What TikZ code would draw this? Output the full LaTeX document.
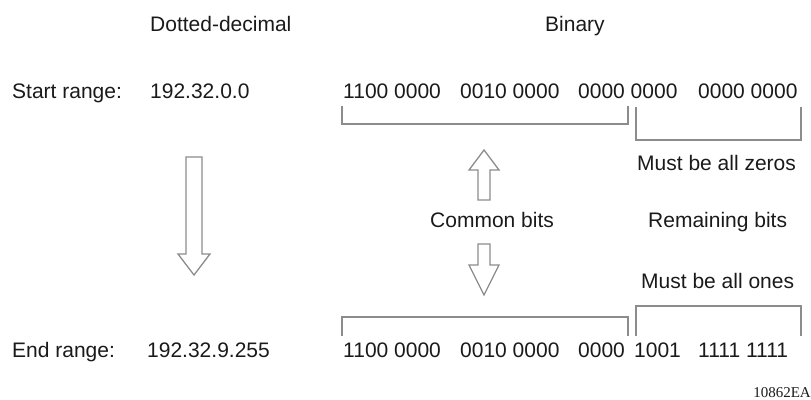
\documentclass[tikz,border=0pt]{standalone}
\usepackage{fontspec}
\setmainfont{Liberation Sans}
\newfontfamily\serifcode{Liberation Serif}
\definecolor{txt}{HTML}{1A1A1A}
\definecolor{ln}{HTML}{8C8C8C}
\tikzset{
  lbl/.style={inner sep=0pt, anchor=base west, text=txt, font=\fontsize{21}{25}\selectfont},
  brk/.style={draw=ln, line width=1.4pt, line join=miter},
  blk/.style={draw=ln, line width=1.3pt, fill=white, line join=miter}
}
\begin{document}
\begin{tikzpicture}[x=1pt,y=-1pt]
\useasboundingbox (0,0) rectangle (811,399);
% headers
\node[lbl] (hdd) at (150,31) {Dotted-decimal};
\node[lbl] (hbin) at (545,31) {Binary};
% start row
\node[lbl] (sr) at (12,98) {Start range:};
\node[lbl] (sdd) at (150,98) {192.32.0.0};
\node[lbl] (sb1) at (343,98) {1100 0000};
\node[lbl] (sb2) at (460,98) {0010 0000};
\node[lbl] (sb3) at (578,98) {0000 0000};
\node[lbl] (sb4) at (698,98) {0000 0000};
% end row
\node[lbl] (er) at (12,357) {End range:};
\node[lbl] (edd) at (147,357) {192.32.9.255};
\node[lbl] (eb1) at (343,357) {1100 0000};
\node[lbl] (eb2) at (460,357) {0010 0000};
\node[lbl] (eb3) at (578,357) {0000};
\node[lbl] (eb4) at (634,357) {1001};
\node[lbl] (eb5) at (698,357) {1111 1111};
% middle labels
\node[lbl] (zeros) at (637,170) {Must be all zeros};
\node[lbl] (common) at (430,227) {Common bits};
\node[lbl] (remain) at (648,227) {Remaining bits};
\node[lbl] (ones) at (641,288) {Must be all ones};
\node[inner sep=0pt, anchor=base east, text=txt, font=\serifcode\fontsize{15}{17}\selectfont] (code) at (811,397) {10862EA};
% brackets start row
\draw[brk] (342,106) -- (342,124) -- (628,124) -- (628,106);
\draw[brk] (636,107) -- (636,140) -- (801,140) -- (801,107);
% brackets end row
\draw[brk] (342,336) -- (342,317) -- (628,317) -- (628,336);
\draw[brk] (636,336) -- (636,306) -- (801,306) -- (801,336);
% left block arrow (down)
\draw[blk] (186,157) -- (202,157) -- (202,254) -- (210,254) -- (194,275) -- (178,254) -- (186,254) -- cycle;
% common up arrow
\draw[blk] (478,200) -- (478,170) -- (469,170) -- (484,150) -- (499,170) -- (490,170) -- (490,200) -- cycle;
% common down arrow
\draw[blk] (478,244) -- (490,244) -- (490,265) -- (499,265) -- (484,295) -- (469,265) -- (478,265) -- cycle;
\end{tikzpicture}
\end{document}
